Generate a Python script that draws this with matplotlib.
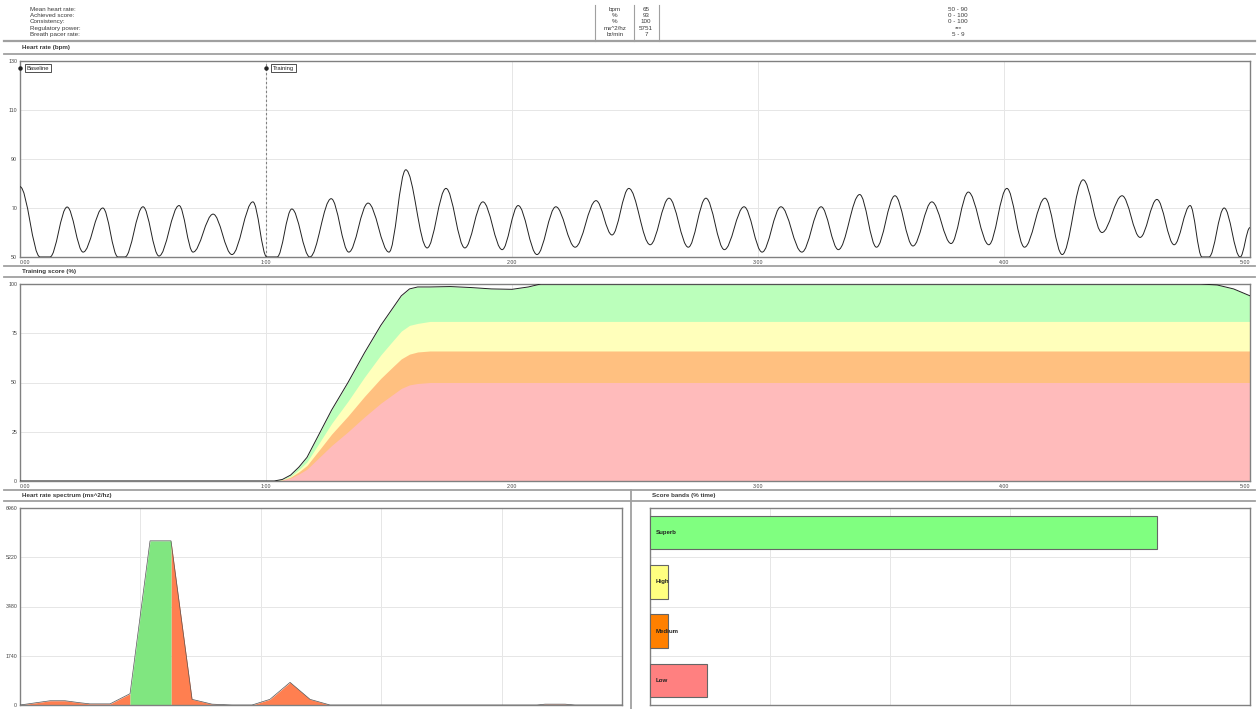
import numpy as np
import matplotlib
matplotlib.use("Agg")
import matplotlib.pyplot as plt
from matplotlib.path import Path
from matplotlib.patches import PathPatch
from matplotlib.lines import Line2D

# ---------------- data ----------------
summary_labels = ["Mean heart rate:", "Achieved score:", "Consistency:", "Regulatory power:", "Breath pacer rate:"]
summary_units = ["bpm", "%", "%", "ms^2/hz", "br/min"]
summary_values = ["65", "93", "100", "5751", "7"]
summary_ranges = ["50 - 90", "0 - 100", "0 - 100", "***", "5 - 9"]

time_ticks = [0, 60, 120, 180, 240, 300]
time_labels = ["0:00", "1:00", "2:00", "3:00", "4:00", "5:00"]

# heart rate turning points (seconds, bpm)
hr_t = [0, 4.9, 7.3, 11.5, 15.4, 20.2, 23.9, 25.6, 30.0, 33.9, 38.8, 42.2, 47.1, 51.7, 56.8, 60.2, 62.7,
        66.3, 70.7, 75.9, 80.2, 84.9, 90.0, 94.1, 99.3, 103.9, 108.5, 112.9, 117.6, 121.5, 126.1,
        130.7, 135.4, 140.5, 144.4, 148.5, 153.7, 158.3, 163.0, 167.3, 171.8, 176.6, 181.0, 185.6, 190.7,
        195.4, 199.6, 204.8, 208.9, 213.4, 217.8, 222.4, 227.1, 231.3, 236.3, 240.7, 245.0, 250.0, 254.2,
        259.3, 263.9, 268.8, 273.2, 277.3, 281.5, 285.4, 288.3, 290.0, 293.7, 297.6, 300.0]
hr_v = [78.7, 50, 50, 70.4, 52, 70, 50, 50, 70.5, 50.4, 71, 52, 67.5, 51, 72.5, 50, 50,
        69.6, 50, 73.8, 52, 72, 52, 85.6, 53.7, 78, 53.7, 72.5, 53, 71, 51,
        70.5, 54, 73, 59, 78, 55, 74, 54, 74, 53, 70.5, 52, 70.5, 52,
        70.5, 53, 75.5, 54, 75, 54.5, 72.5, 55.5, 76.5, 55, 78, 54, 74, 51,
        81.5, 60, 75, 58, 73.5, 55, 71, 50, 50, 70, 50, 62]

score_t = [0, 62, 64, 66, 68, 70, 73, 76, 80, 84, 88, 91, 93, 95, 97, 100, 105, 110, 115, 120, 124, 127, 288, 292, 296, 300]
score_v = [0, 0, 0.8, 3, 7, 12, 24, 36, 50, 65, 79, 88, 94, 97.5, 98.5, 98.5, 98.7, 98.2, 97.5, 97.3, 98.5, 100, 100, 99.5, 97.5, 94]
band_red = [0, 0, 0.4, 1.5, 3.5, 6, 12, 18, 25, 32.5, 39.5, 44, 47, 48.8, 49.5, 50, 50, 50, 50, 50, 50, 50, 50, 50, 50, 50]
band_orange = [0, 0, 0.5, 2, 4.6, 7.9, 15.8, 23.8, 33, 42.9, 52.1, 58.1, 62, 64.4, 65.5, 66, 66, 66, 66, 66, 66, 66, 66, 66, 66, 66]
band_yellow = [0, 0, 0.6, 2.4, 5.7, 9.7, 19.4, 29.2, 40.5, 52.7, 64, 71.3, 76.1, 79, 80, 81, 81, 81, 81, 81, 81, 81, 81, 81, 81, 81]

spec_f = [0.0, 0.025, 0.0374, 0.0498, 0.0581, 0.0748, 0.0914, 0.108, 0.1254, 0.1429, 0.1595, 0.1761,
          0.1927, 0.2076, 0.2243, 0.2409, 0.2575, 0.2741, 0.2890, 0.4294, 0.4361, 0.4527, 0.4610, 0.5]
spec_v = [0, 150, 150, 80, 40, 40, 400, 5800, 5800, 200, 30, 0, 0, 200, 800, 200, 0, 0, 0, 0, 30, 30, 0, 0]
band_lo, band_hi = 0.0914, 0.1254

score_bands = ["Superb", "High", "Medium", "Low"]
score_pct = [84.5, 3.0, 3.0, 9.5]
score_colors = ["#80FF80", "#FFFF80", "#FF8000", "#FF8080"]

# ---------------- layout ----------------
W, H = 1259, 709
fig = plt.figure(figsize=(W / 100, H / 100), dpi=100)
fig.patch.set_facecolor("white")
plt.rcParams["font.family"] = ["Liberation Sans", "DejaVu Sans"]

def fx(x):
    return x / W

def fy(y):
    return 1 - y / H

def hline(y, x0=0, x1=W, color="#a0a0a0", lw=1.0):
    fig.add_artist(Line2D([fx(x0), fx(x1)], [fy(y), fy(y)], color=color, lw=lw, transform=fig.transFigure))

def vline(x, y0, y1, color="#a0a0a0", lw=1.0):
    fig.add_artist(Line2D([fx(x), fx(x)], [fy(y0), fy(y1)], color=color, lw=lw, transform=fig.transFigure))

def add_ax(x0, x1, y0, y1):
    return fig.add_axes([fx(x0), fy(y1), fx(x1 - x0), (y1 - y0) / H])

FS = 4.5
TXT = "#3a3a3a"
# header table
for i, (lab, u, v, r) in enumerate(zip(summary_labels, summary_units, summary_values, summary_ranges)):
    yy = 9.5 + i * 6.2
    fig.text(fx(30), fy(yy), lab, fontsize=FS, va="center", ha="left", color=TXT)
    fig.text(fx(615), fy(yy), u, fontsize=FS, va="center", ha="center", color=TXT)
    fig.text(fx(646), fy(yy), v, fontsize=FS, va="center", ha="center", color=TXT)
    fig.text(fx(958), fy(yy), r, fontsize=FS, va="center", ha="center", color=TXT)
for xv in (595, 634, 659):
    vline(xv, 5, 41, lw=0.8)
hline(40.5, 4, 1255, lw=1.6)

# section titles
hline(54, 4, 1255, lw=1.3)
fig.text(fx(22), fy(48), "Heart rate (bpm)", fontsize=FS, fontweight="bold", va="center", color=TXT)
hline(266, 4, 1255, lw=1.3)
fig.text(fx(22), fy(271), "Training score (%)", fontsize=FS, fontweight="bold", va="center", color=TXT)
hline(277, 4, 1255, lw=1.3)
hline(490, 4, 1255, lw=1.3)
fig.text(fx(22), fy(496), "Heart rate spectrum (ms^2/hz)", fontsize=FS, fontweight="bold", va="center", color=TXT)
fig.text(fx(652), fy(496), "Score bands (% time)", fontsize=FS, fontweight="bold", va="center", color=TXT)
hline(501, 4, 1255, lw=1.3)
vline(631, 490, 709, lw=1.3)

def style(ax):
    for s in ax.spines.values():
        s.set_color("#808080")
        s.set_linewidth(1.0)
    ax.tick_params(length=0, labelsize=3.8, colors="#444444", pad=2)
    ax.grid(True, color="#e6e6e6", lw=0.7)
    ax.set_axisbelow(True)

def time_axis(ax):
    ax.set_xlim(0, 300)
    ax.set_xticks(time_ticks)
    ax.set_xticklabels(time_labels)
    labs = ax.get_xticklabels()
    labs[0].set_ha("left")
    labs[-1].set_ha("right")

# ---- heart rate ----
ax1 = add_ax(20, 1250, 61, 257)
style(ax1)
time_axis(ax1)
ax1.set_ylim(50, 130)
ax1.set_yticks([50, 70, 90, 110, 130])
verts = [(hr_t[0], hr_v[0])]
codes = [Path.MOVETO]
for i in range(1, len(hr_t)):
    dt = hr_t[i] - hr_t[i - 1]
    verts += [(hr_t[i - 1] + dt * 0.36, hr_v[i - 1]), (hr_t[i] - dt * 0.36, hr_v[i]), (hr_t[i], hr_v[i])]
    codes += [Path.CURVE4] * 3
ax1.add_patch(PathPatch(Path(verts, codes), fill=False, lw=0.7, edgecolor="#222222", zorder=3))
ax1.axvline(60, color="#808080", lw=0.8, ls=(0, (2, 2)), zorder=2)
for tm, name in [(0, "Baseline"), (60, "Training")]:
    ax1.plot([tm], [127], "o", ms=2.2, color="#222222", clip_on=False, zorder=4)
    ax1.annotate(name, (tm, 127), xytext=(5, 0), textcoords="offset points", fontsize=4.2,
                 va="center", ha="left", zorder=5, color="#222222",
                 bbox=dict(boxstyle="square,pad=0.25", fc="white", ec="#333333", lw=0.6))

# ---- training score ----
ax2 = add_ax(20, 1250, 284, 481)
style(ax2)
time_axis(ax2)
ax2.set_ylim(0, 100)
ax2.set_yticks([0, 25, 50, 75, 100])
ax2.fill_between(score_t, 0, score_v, color="#BBFFBB", lw=0, zorder=2)
ax2.fill_between(score_t, 0, band_yellow, color="#FFFFBB", lw=0, zorder=2)
ax2.fill_between(score_t, 0, band_orange, color="#FFC080", lw=0, zorder=2)
ax2.fill_between(score_t, 0, band_red, color="#FFBBBB", lw=0, zorder=2)
ax2.plot(score_t, score_v, color="#222222", lw=0.7, zorder=3)

# ---- spectrum ----
ax3 = add_ax(20, 622, 508, 705)
style(ax3)
ax3.set_xlim(0, 0.5)
ax3.set_ylim(0, 6960)
ax3.set_yticks([0, 1740, 3480, 5220, 6960])
ax3.set_xticks([0.1, 0.2, 0.3, 0.4])
ax3.set_xticklabels([])
sf = np.array(spec_f)
sv = np.array(spec_v)
ax3.fill_between(sf, 0, sv, where=(sf <= band_lo + 1e-9), color="#FF7F50", lw=0, zorder=2)
ax3.fill_between(sf, 0, sv, where=(sf >= band_hi - 1e-9), color="#FF7F50", lw=0, zorder=2)
ax3.fill_between(sf, 0, sv, where=((sf >= band_lo - 1e-9) & (sf <= band_hi + 1e-9)), color="#80E680", lw=0, zorder=2)
ax3.plot(sf, sv, color="#555555", lw=0.5, zorder=3)

# ---- score bands ----
ax4 = add_ax(650, 1250, 508, 705)
style(ax4)
ax4.set_xlim(0, 100)
ax4.set_ylim(-0.5, 3.5)
ax4.set_xticks([20, 40, 60, 80])
ax4.set_yticks([0.5, 1.5, 2.5])
ax4.set_xticklabels([])
ax4.set_yticklabels([])
ypos = [3, 2, 1, 0]
ax4.barh(ypos, score_pct, height=0.68, color=score_colors, edgecolor="#666666", lw=0.8, zorder=3)
for yv, name in zip(ypos, score_bands):
    ax4.text(1.0, yv, name, fontsize=4.4, fontweight="bold", va="center", ha="left", zorder=4, color="#222222")

fig.savefig("out.png", dpi=100, facecolor="white")
